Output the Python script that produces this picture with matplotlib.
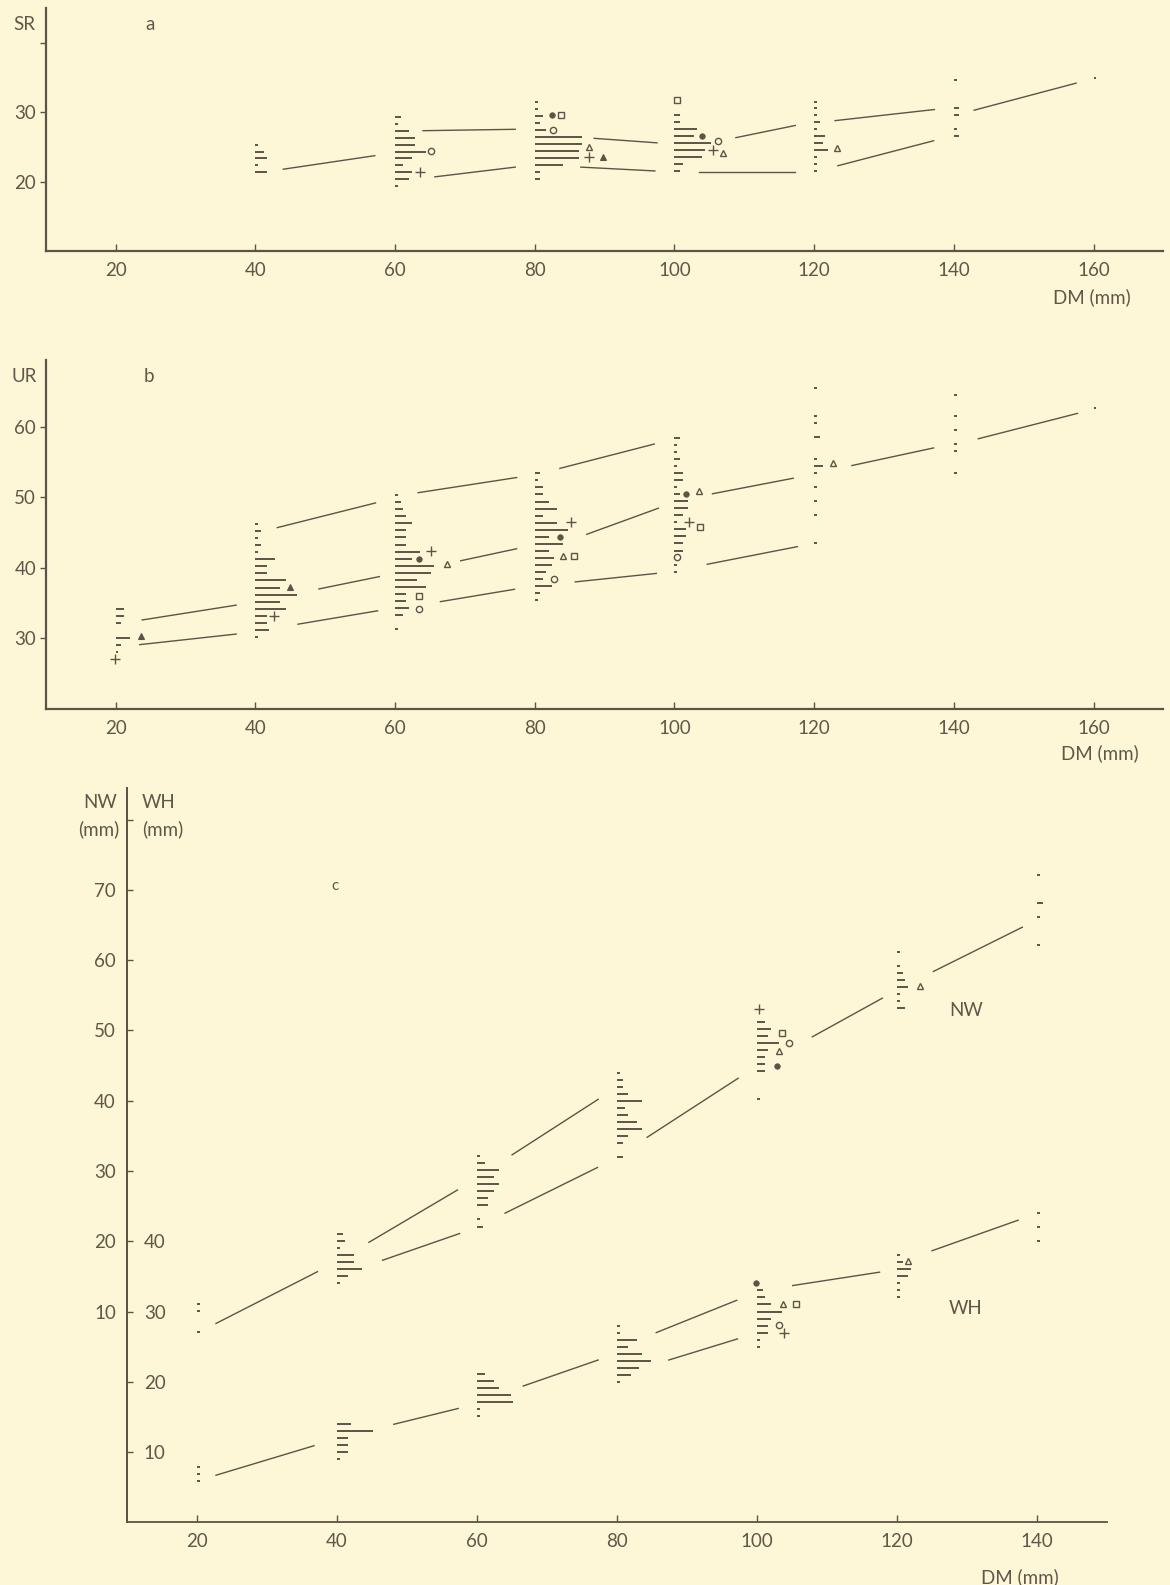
import numpy as np
import matplotlib
matplotlib.use("Agg")
import matplotlib.pyplot as plt

plt.rcParams['font.family'] = ['Lato', 'DejaVu Sans']
plt.rcParams['font.size'] = 13.5

BG = '#fdf7d8'
INK = '#5c5444'
TXT = '#5f5848'
W, H = 1170, 1585
COUNT_W = 0.4   # DM units per specimen in the little histograms

# ---------------- panel a : SR ----------------
a_dm = [40, 60, 80, 100, 120, 140, 160]
a_base = [21.35, 19.35, 20.45, 21.55, 21.55, 26.6, 35.0]
a_counts = [
    [4, 1, 4, 3, 1],
    [1, 5, 6, 3, 6, 11, 7, 7, 5, 1, 2],
    [2, 2, 10, 16, 16, 17, 17, 4, 2, 3, 1, 1],
    [2, 3, 10, 11, 13, 7, 8, 2, 2],
    [1, 1, 1, 5, 3, 4, 1, 2, 1, 1, 1],
    [2, 1, 0, 2, 2, 0, 0, 0, 1],
    [1],
]
a_mk_x = [65.1, 63.6, 82.4, 83.7, 82.6, 87.7, 87.7, 89.7, 100.3, 103.9, 106.2, 105.5, 106.9, 123.3]
a_mk_y = [24.4, 21.35, 29.6, 29.6, 27.5, 25.0, 23.5, 23.5, 31.8, 26.6, 25.8, 24.6, 24.1, 24.9]
a_mk = ['circle', 'plus', 'dot', 'square', 'circle', 'tri', 'plus', 'ftri',
        'square', 'dot', 'circle', 'plus', 'tri', 'tri']
a_seg = [
    (44.0, 21.8, 57.1, 23.75),
    (64.0, 27.35, 77.2, 27.55),
    (65.7, 20.7, 77.2, 22.1),
    (88.5, 26.25, 97.5, 25.6),
    (86.6, 22.1, 97.2, 21.55),
    (108.8, 26.35, 117.3, 28.1),
    (103.5, 21.45, 117.2, 21.45),
    (123.0, 28.8, 137.2, 30.4),
    (123.4, 22.3, 137.1, 25.9),
    (142.9, 30.3, 157.5, 34.2),
]

# ---------------- panel b : UR ----------------
b_dm = [20, 40, 60, 80, 100, 120, 140, 160]
b_base = [28.1, 30.2, 31.3, 35.4, 39.45, 43.5, 53.5, 62.7]
b_counts = [
    [1, 2, 5, 0, 2, 3, 3],
    [1, 5, 4, 4, 11, 9, 15, 9, 11, 4, 4, 7, 1, 2, 1, 2, 1],
    [1, 0, 3, 5, 4, 4, 11, 8, 13, 14, 6, 9, 4, 4, 4, 6, 4, 3, 2, 1],
    [1, 2, 6, 3, 4, 6, 7, 5, 10, 5, 12, 8, 3, 8, 5, 3, 3, 1, 2],
    [1, 1, 0, 3, 3, 4, 4, 1, 3, 5, 5, 2, 1, 3, 3, 1, 2, 1, 1, 2],
    [1, 0, 0, 0, 1, 0, 1, 0, 1, 0, 1, 3, 1, 0, 0, 2, 0, 1, 1, 0, 0, 0, 1],
    [1, 0, 0, 1, 1, 0, 1, 0, 1, 0, 0, 1],
    [1],
]
b_mk_x = [19.9, 23.7, 45.0, 42.6, 65.2, 63.4, 67.4, 63.5, 63.4, 85.2, 83.6, 84.0,
          85.6, 82.7, 101.6, 103.5, 102.1, 103.6, 100.3, 122.7]
b_mk_y = [27.0, 30.3, 37.3, 33.2, 42.4, 41.2, 40.5, 36.0, 34.2, 46.45, 44.4, 41.7,
          41.7, 38.4, 50.5, 50.9, 46.45, 45.8, 41.6, 54.8]
b_mk = ['plus', 'ftri', 'ftri', 'plus', 'plus', 'dot', 'tri', 'square', 'circle',
        'plus', 'dot', 'tri', 'square', 'circle', 'dot', 'tri', 'plus', 'square',
        'circle', 'tri']
b_seg = [
    (23.8, 32.6, 37.25, 34.7),
    (23.45, 29.1, 37.25, 30.6),
    (43.15, 45.7, 57.2, 49.2),
    (49.1, 37.0, 57.75, 38.75),
    (46.1, 32.0, 57.5, 33.9),
    (63.3, 50.65, 77.4, 52.8),
    (69.4, 41.0, 77.4, 42.7),
    (66.5, 35.2, 77.1, 36.95),
    (83.6, 54.1, 97.1, 57.55),
    (87.45, 44.75, 97.7, 48.45),
    (85.8, 38.0, 97.4, 39.2),
    (105.45, 50.5, 117.0, 52.7),
    (104.7, 40.5, 117.6, 43.0),
    (125.4, 54.5, 137.1, 57.0),
    (143.5, 58.3, 157.7, 61.9),
]

# ---------------- panel c : NW and WH ----------------
nw_dm = [20, 40, 60, 80, 100, 120, 140]
nw_base = [7.04, 14.0, 22.1, 32.0, 40.2, 53.15, 62.1]
nw_counts = [
    [1, 0, 0, 1, 1],
    [1, 4, 9, 6, 6, 1, 3, 2],
    [2, 1, 0, 4, 4, 6, 8, 6, 8, 3, 1],
    [2, 0, 2, 4, 9, 7, 4, 3, 9, 4, 2, 2, 1],
    [1, 0, 0, 0, 3, 3, 3, 4, 8, 4, 5, 3],
    [3, 1, 1, 4, 3, 2, 1, 0, 1],
    [1, 0, 0, 0, 1, 0, 2, 0, 0, 0, 1],
]
nw_mk_x = [100.3, 103.6, 104.6, 103.1, 102.8, 123.3]
nw_mk_y = [53.06, 49.6, 48.2, 47.1, 45.0, 56.3]
nw_mk = ['plus', 'square', 'circle', 'tri', 'dot', 'tri']
nw_seg = [
    (22.7, 8.3, 37.2, 15.67),
    (44.55, 19.85, 57.2, 27.3),
    (46.5, 17.3, 57.5, 21.1),
    (65.0, 32.3, 77.3, 40.2),
    (64.0, 24.0, 77.2, 30.5),
    (84.3, 34.8, 97.3, 43.2),
    (107.9, 49.1, 117.9, 54.6),
    (125.2, 58.4, 137.9, 64.7),
]

wh_dm = [20, 40, 60, 80, 100, 120, 140]
wh_base = [5.9, 8.96, 15.1, 20.0, 25.0, 32.0, 40.0]
wh_counts = [
    [1, 1, 1],
    [1, 4, 4, 4, 13, 5],
    [1, 1, 13, 12, 8, 6, 3],
    [1, 5, 8, 12, 9, 4, 7, 1, 1],
    [1, 1, 4, 4, 5, 9, 5, 3, 2],
    [1, 1, 1, 4, 5, 2, 1],
    [1, 0, 1, 0, 1],
]
wh_mk_x = [99.8, 103.7, 105.5, 103.2, 103.8, 121.6]
wh_mk_y = [34.0, 31.07, 31.07, 28.1, 27.0, 37.2]
wh_mk = ['dot', 'tri', 'square', 'circle', 'plus', 'tri']
wh_seg = [
    (22.7, 6.7, 36.7, 10.9),
    (48.1, 13.95, 57.3, 16.2),
    (66.6, 19.4, 77.3, 23.1),
    (85.6, 27.0, 97.1, 31.6),
    (87.4, 23.1, 97.2, 26.1),
    (105.1, 33.7, 117.5, 35.6),
    (125.0, 38.65, 137.3, 43.0),
]

MARKERS = {
    'plus':   dict(marker='+', ms=6.5, mew=1.0, color=INK),
    'circle': dict(marker='o', ms=4.5, mfc='none', mec=INK, mew=1.0),
    'dot':    dict(marker='o', ms=4.0, mfc=INK, mec=INK, mew=0.5),
    'square': dict(marker='s', ms=5.0, mfc='none', mec=INK, mew=1.0),
    'tri':    dict(marker='^', ms=5.0, mfc='none', mec=INK, mew=1.0),
    'ftri':   dict(marker='^', ms=5.0, mfc=INK, mec=INK, mew=0.8),
}


def draw_hist(ax, dms, bases, counts):
    for dm, b, c in zip(dms, bases, counts):
        c = np.asarray(c, dtype=float)
        ys = b + np.arange(len(c))
        keep = c > 0
        ax.hlines(ys[keep], dm, dm + c[keep] * COUNT_W, colors=INK,
                  linewidth=1.4, capstyle='butt')


def draw_marks(ax, xs, ys, kinds):
    for x, y, k in zip(xs, ys, kinds):
        ax.plot(x, y, linestyle='none', **MARKERS[k])


def draw_segs(ax, segs):
    for x0, y0, x1, y1 in segs:
        ax.plot([x0, x1], [y0, y1], color=INK, linewidth=1.0)


def place(x0, x1, ytop, ybot):
    return fig.add_axes([x0 / W, 1 - ybot / H, (x1 - x0) / W, (ybot - ytop) / H])


def ftxt(x, y, s, **kw):
    kw.setdefault('color', TXT)
    fig.text(x / W, 1 - y / H, s, **kw)


def style(ax, xticks, ydir):
    ax.set_facecolor('none')
    for s in ['top', 'right']:
        ax.spines[s].set_visible(False)
    for s in ['left', 'bottom']:
        ax.spines[s].set_color(INK)
        ax.spines[s].set_linewidth(1.6)
    ax.set_xticks(xticks)
    ax.set_xticklabels([str(t) for t in xticks])
    ax.tick_params(axis='x', direction='in', length=5, width=1.0, pad=8,
                   colors=INK, labelcolor=TXT)
    ax.tick_params(axis='y', direction=ydir, length=4, width=1.0, pad=3,
                   colors=INK, labelcolor=TXT)


fig = plt.figure(figsize=(W / 100, H / 100), dpi=100)
fig.patch.set_facecolor(BG)

# panel a
ax_a = place(45.8, 1163.4, 8.2, 251.1)
ax_a.set_xlim(10, 170)
ax_a.set_ylim(10, 45)
style(ax_a, [20, 40, 60, 80, 100, 120, 140, 160], 'out')
ax_a.set_yticks([20, 30, 40])
ax_a.set_yticklabels(['20', '30', ''])
draw_hist(ax_a, a_dm, a_base, a_counts)
draw_segs(ax_a, a_seg)
draw_marks(ax_a, a_mk_x, a_mk_y, a_mk)
ftxt(24, 25, 'SR', ha='center', va='center')
ftxt(150, 25, 'a', ha='center', va='center')
ftxt(1092, 297, 'DM (mm)', ha='center', va='center')

# panel b
ax_b = place(45.8, 1163.4, 359.8, 708.8)
ax_b.set_xlim(10, 170)
ax_b.set_ylim(20, 69.5)
style(ax_b, [20, 40, 60, 80, 100, 120, 140, 160], 'out')
ax_b.set_yticks([30, 40, 50, 60])
ax_b.set_yticklabels(['30', '40', '50', '60'])
draw_hist(ax_b, b_dm, b_base, b_counts)
draw_segs(ax_b, b_seg)
draw_marks(ax_b, b_mk_x, b_mk_y, b_mk)
ftxt(24, 376, 'UR', ha='center', va='center')
ftxt(149, 376, 'b', ha='center', va='center')
ftxt(1100, 753, 'DM (mm)', ha='center', va='center')

# panel c
ax_c = place(127.1, 1107.0, 788.1, 1522.3)
ax_c.set_xlim(10, 150)
ax_c.set_ylim(-20, 84.5)
style(ax_c, [20, 40, 60, 80, 100, 120, 140], 'in')
ax_c.spines['left'].set_linewidth(1.3)
ax_c.spines['bottom'].set_linewidth(1.3)
nw_ticks = [-10, 0, 10, 20, 30, 40, 50, 60, 70, 80]
ax_c.set_yticks(nw_ticks)
ax_c.set_yticklabels(['' if (t < 10 or t > 70) else str(t) for t in nw_ticks])
ax_c.tick_params(axis='y', pad=8)

tw = ax_c.twinx()
tw.set_ylim(0, 104.5)
for s in ['top', 'left', 'bottom']:
    tw.spines[s].set_visible(False)
tw.spines['right'].set_position(('axes', 0))
tw.spines['right'].set_color(INK)
tw.spines['right'].set_linewidth(1.3)
tw.set_yticks([10, 20, 30, 40])
tw.set_yticklabels(['10', '20', '30', '40'])
tw.tick_params(axis='y', length=0, pad=12, colors=INK, labelcolor=TXT)

draw_hist(ax_c, nw_dm, nw_base, nw_counts)
draw_segs(ax_c, nw_seg)
draw_marks(ax_c, nw_mk_x, nw_mk_y, nw_mk)
draw_hist(tw, wh_dm, wh_base, wh_counts)
draw_segs(tw, wh_seg)
draw_marks(tw, wh_mk_x, wh_mk_y, wh_mk)

ftxt(117, 803, 'NW', ha='right', va='center')
ftxt(119, 829, '(mm)', ha='right', va='center')
ftxt(142, 803, 'WH', ha='left', va='center')
ftxt(142, 829, '(mm)', ha='left', va='center')
ftxt(335, 886, 'c', ha='center', va='center', fontsize=11)
ftxt(966, 1010, 'NW', ha='center', va='center')
ftxt(966, 1308, 'WH', ha='center', va='center')
ftxt(1020, 1577, 'DM (mm)', ha='center', va='center')

fig.savefig('out.png', dpi=100, facecolor=BG)
